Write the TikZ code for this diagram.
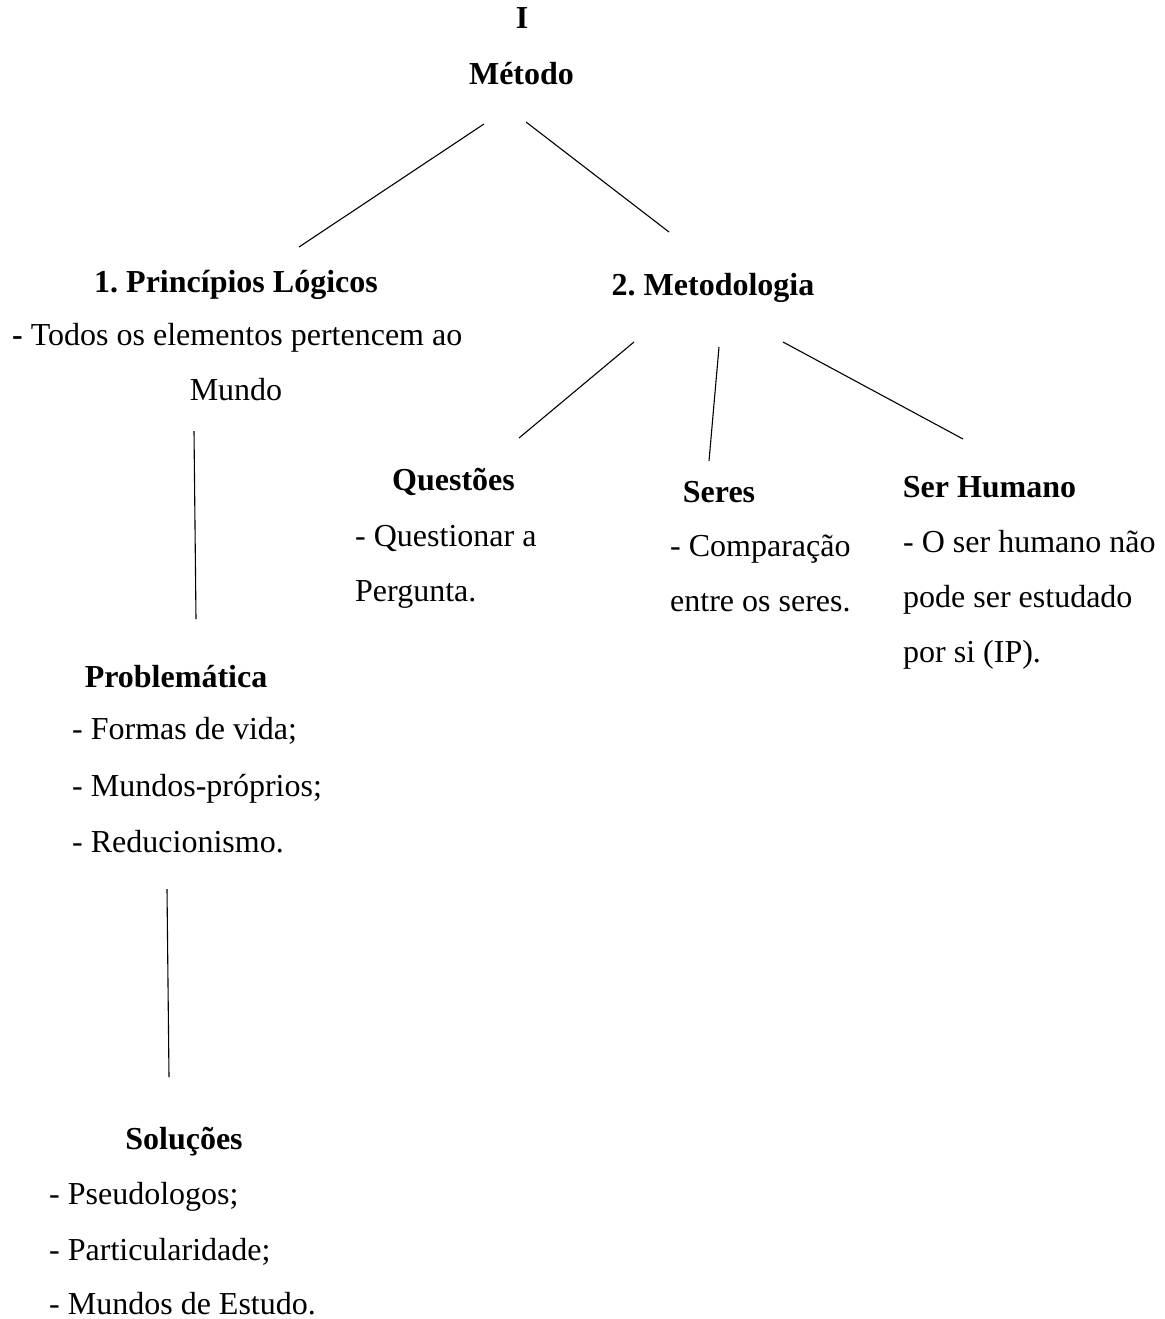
\documentclass[tikz,border=0pt]{standalone}
\usepackage{fontspec}
\setmainfont{Liberation Serif}
\usetikzlibrary{positioning}
\frenchspacing

\tikzset{
  titulo/.style={font=\fontsize{32}{38}\selectfont\bfseries, inner sep=0pt, anchor=base},
  texto/.style={font=\fontsize{32}{38}\selectfont, inner sep=0pt, anchor=base west},
  ramo/.style={line width=1.1pt}
}

\begin{document}
\begin{tikzpicture}[x=1pt,y=1pt,yscale=-1]
	\useasboundingbox (0,0) rectangle (1164,1319);

	% topo
	\node[titulo] (num) at (522,29) {I};
	\node[titulo] (metodo) at (521.5,85) {Método};

	% ramo 1
	\node[titulo] (principios) at (236,292) {1. Princípios Lógicos};
	\node[texto] (todos) at (12,345) {\textbf{-} Todos os elementos pertencem ao};
	\node[titulo, font=\fontsize{32}{38}\selectfont] (mundo) at (236,400) {Mundo};

	\node[titulo] (problematica) at (176,687) {Problemática};
	\node[texto] (formas) at (72,739) {- Formas de vida;};
	\node[texto] (proprios) at (72,796) {- Mundos-próprios;};
	\node[texto] (reducao) at (72,852) {- Reducionismo.};

	\node[titulo] (solucoes) at (184,1149) {Soluções};
	\node[texto] (pseudo) at (49,1204) {- Pseudologos;};
	\node[texto] (particular) at (49,1260) {- Particularidade;};
	\node[texto] (estudo) at (49,1314) {- Mundos de Estudo.};

	% ramo 2
	\node[titulo] (metodologia) at (713,295) {2. Metodologia};

	\node[titulo] (questoes) at (453.5,490) {Questões};
	\node[texto] (quest1) at (355,546) {- Questionar a};
	\node[texto] (quest2) at (355,601) {Pergunta.};

	\node[titulo] (seres) at (719,502) {Seres};
	\node[texto] (seres1) at (670,556) {- Comparação};
	\node[texto] (seres2) at (670,611) {entre os seres.};

	\node[titulo] (humano) at (989.5,497) {Ser Humano};
	\node[texto] (hum1) at (903,552) {- O ser humano não};
	\node[texto] (hum2) at (903,607) {pode ser estudado};
	\node[texto] (hum3) at (903,662) {por si (IP).};

	% ligacoes
	\draw[ramo] ([shift={(-37.5,39)}]metodo.base) -- ([shift={(63,-45)}]principios.base);
	\draw[ramo] ([shift={(4.5,37)}]metodo.base) -- ([shift={(-44,-63)}]metodologia.base);
	\draw[ramo] ([shift={(-79,47)}]metodologia.base) -- ([shift={(65.5,-52)}]questoes.base);
	\draw[ramo] ([shift={(6,52)}]metodologia.base) -- ([shift={(-10,-41)}]seres.base);
	\draw[ramo] ([shift={(70,47)}]metodologia.base) -- ([shift={(-26.5,-58)}]humano.base);
	\draw[ramo] ([shift={(-42,31)}]mundo.base) -- ([shift={(20,-68)}]problematica.base);
	\draw[ramo] ([shift={(95,37)}]reducao.base west) -- ([shift={(-15,-72)}]solucoes.base);
\end{tikzpicture}
\end{document}
